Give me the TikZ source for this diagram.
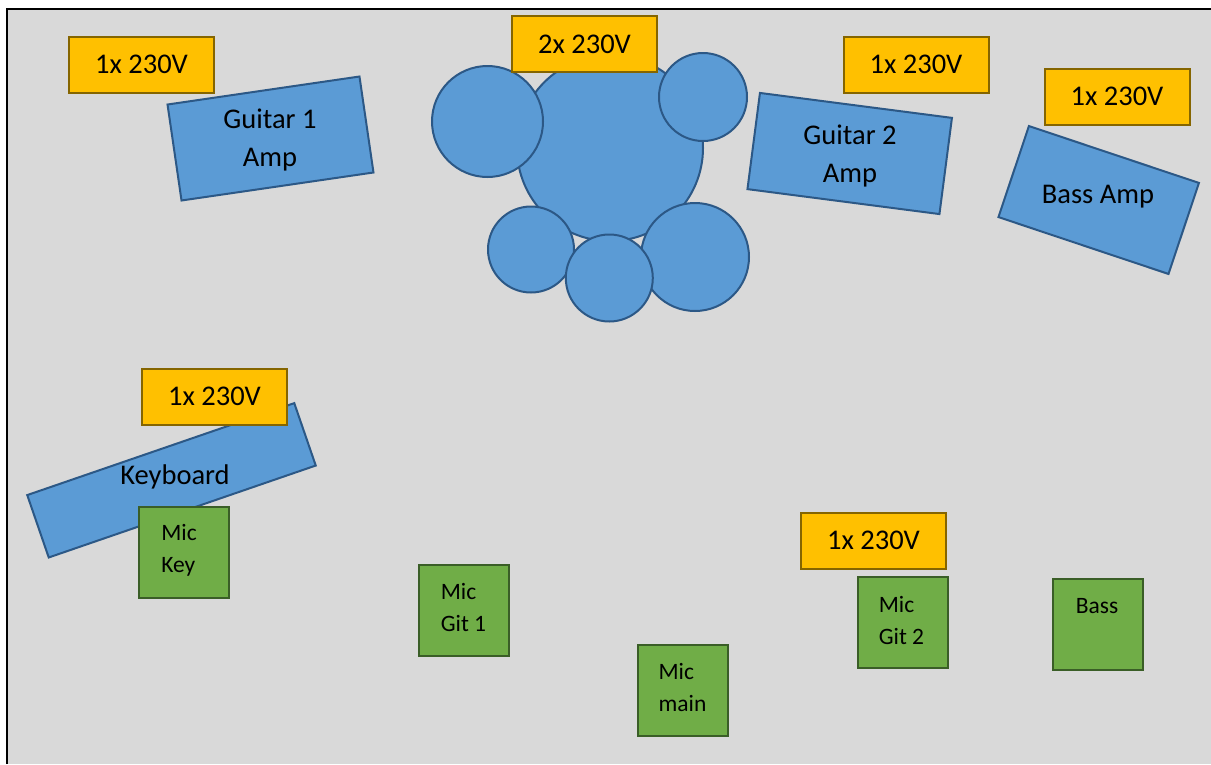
\documentclass[tikz,border=0pt]{standalone}
\usepackage{fontspec}
\setmainfont{Carlito}
\definecolor{bggray}{HTML}{D9D9D9}
\definecolor{bluefill}{HTML}{5B9BD5}
\definecolor{blueline}{HTML}{2C5886}
\definecolor{orangefill}{HTML}{FFC000}
\definecolor{orangeline}{HTML}{856500}
\definecolor{greenfill}{HTML}{70AD47}
\definecolor{greenline}{HTML}{3A5E27}
\tikzset{
  power/.style={draw=orangeline, fill=orangefill, line width=2pt, minimum width=145pt, minimum height=56pt, inner sep=0pt, font=\fontsize{28.5}{34}\selectfont},
  ampbox/.style={draw=blueline, fill=bluefill, line width=2pt, inner sep=0pt},
  drum/.style={draw=blueline, fill=bluefill, line width=2pt, circle, inner sep=0pt},
  ampText/.style={align=center, font=\fontsize{28.5}{37.5}\selectfont, inner sep=0pt},
  micbox/.style={draw=greenline, fill=greenfill, line width=2pt, minimum width=90pt, minimum height=91pt, inner sep=0pt},
  micText/.style={align=left, font=\fontsize{23.5}{32}\selectfont, inner sep=0pt},
}
\begin{document}
\begin{tikzpicture}[x=1pt,y=-1pt]
\useasboundingbox (0,0) rectangle (1211,764);
\fill[white] (0,0) rectangle (1211,764);
\fill[bggray] (7,9) rectangle (1211,764);
\draw[line width=2.5pt, black] (7,764) -- (7,9) -- (1211,9);

% Guitar 1 amp
\node[ampbox, rotate=8.3, minimum width=194pt, minimum height=97pt] (g1amp) at (270.5,138.5) {};
\node[ampText] (g1amptxt) at (270,140) {Guitar 1\\Amp};
% Guitar 2 amp
\node[ampbox, rotate=-7.4, minimum width=193.6pt, minimum height=97pt] (g2amp) at (849.7,153.5) {};
\node[ampText] (g2amptxt) at (850,156) {Guitar 2\\Amp};
% Bass amp
\node[ampbox, rotate=-18.5, minimum width=179.3pt, minimum height=96pt] (bassamp) at (1098.7,200) {};
\node[ampText] (bassamptxt) at (1098,197) {Bass Amp};
% Keyboard
\node[ampbox, rotate=19, minimum width=282.4pt, minimum height=66pt] (keys) at (171.5,480.3) {};
\node[ampText] (keystxt) at (175,477) {Keyboard};

% Drums
\node[drum, minimum size=186pt] (kick) at (610,148) {};
\node[drum, minimum size=111pt] (tomL) at (487.5,121.5) {};
\node[drum, minimum size=88pt] (tomR) at (703,97) {};
\node[drum, minimum size=86pt] (snare) at (531,249.5) {};
\node[drum, minimum size=108pt] (floor) at (695,257) {};
\node[drum, minimum size=87pt] (hihat) at (609.3,278) {};

% Power outlets
\node[power] (p1) at (141.5,64.5) {1x 230V};
\node[power] (p2) at (584.5,44) {2x 230V};
\node[power] (p3) at (916,64.5) {1x 230V};
\node[power] (p4) at (1117,96.5) {1x 230V};
\node[power] (p5) at (214.5,396.5) {1x 230V};
\node[power] (p6) at (873.5,540.5) {1x 230V};

% Microphones
\node[micbox] (mickey) at (184,552.5) {};
\node[micText] (mickeytxt) at (179,550) {Mic\\Key};
\node[micbox] (micg1) at (464,610) {};
\node[micText] (micg1txt) at (463.5,607.5) {Mic\\Git 1};
\node[micbox] (micmain) at (683,690) {};
\node[micText] (micmaintxt) at (682.5,687.5) {Mic\\main};
\node[micbox] (micg2) at (903,622) {};
\node[micText] (micg2txt) at (901.5,620) {Mic\\Git 2};
\node[micbox] (micbass) at (1098,624) {};
\node[micText] (micbasstxt) at (1097,606) {Bass};
\end{tikzpicture}
\end{document}
